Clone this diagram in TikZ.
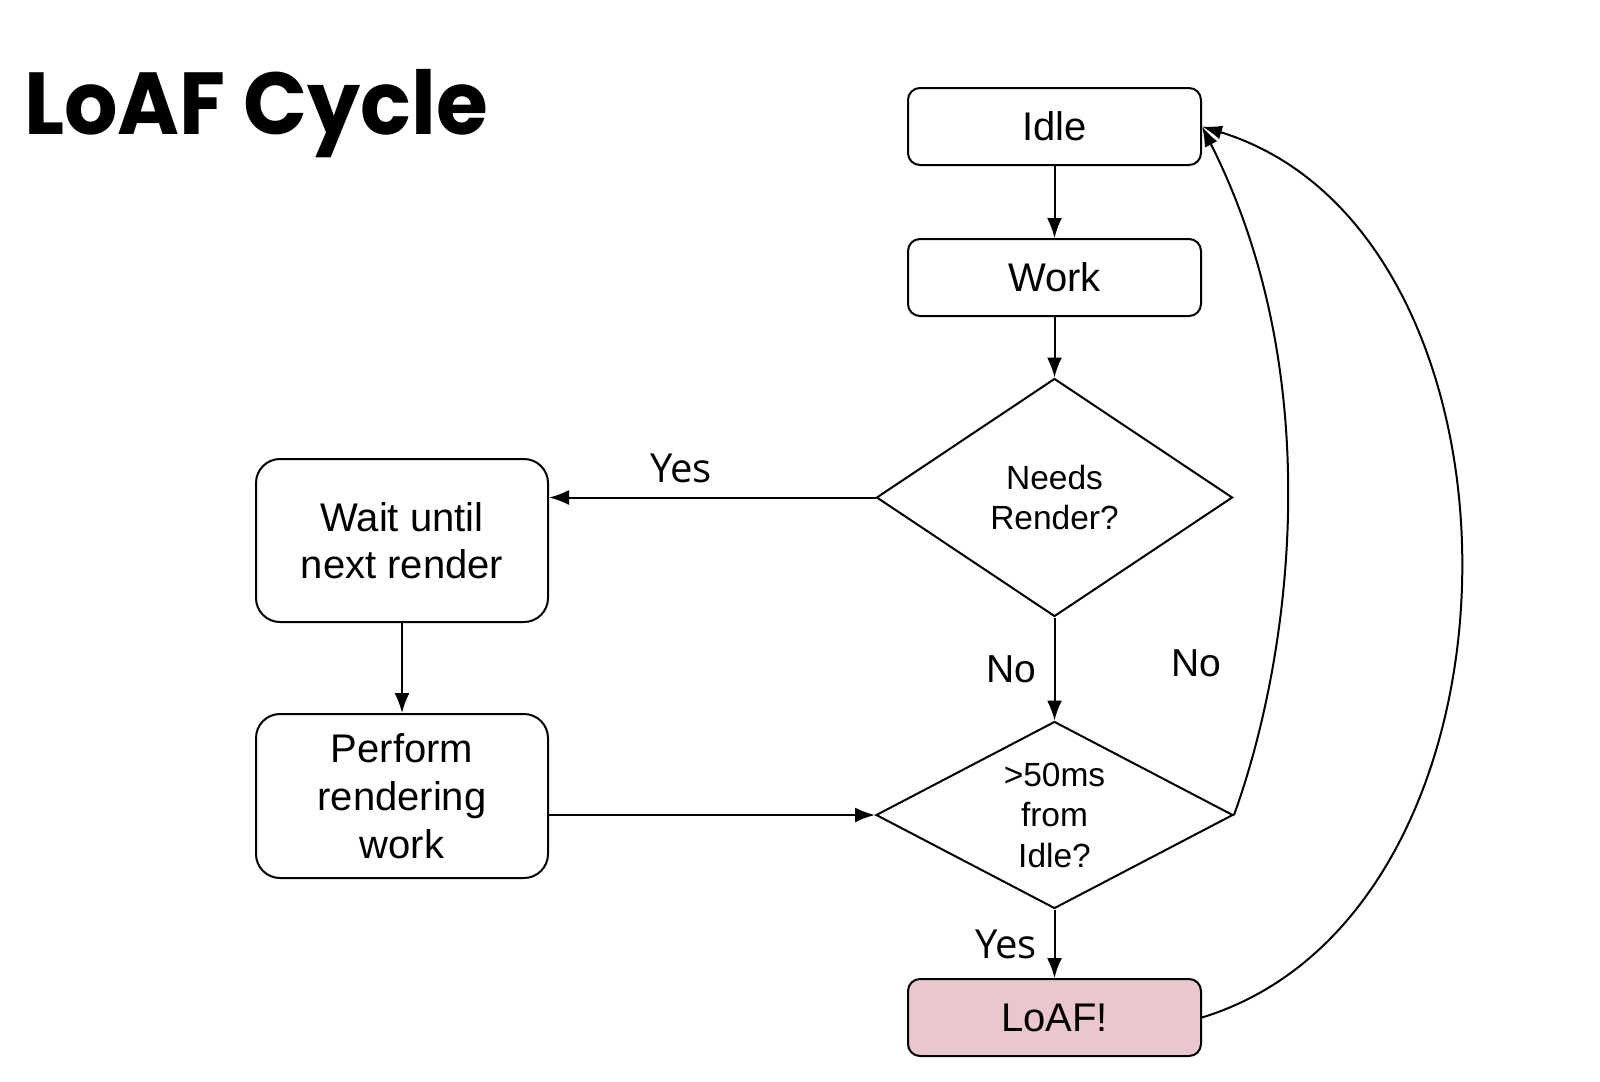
\documentclass[tikz,border=0pt]{standalone}
\usepackage{fontspec}
\setmainfont{Liberation Sans}
\newfontfamily\yesfont{Open Sans}
\newfontfamily\titlefont{Poppins}
\usetikzlibrary{shapes.geometric,arrows.meta}
\definecolor{loafpink}{RGB}{234,199,205}
\begin{document}
\begin{tikzpicture}[x=1pt,y=-1pt,
  box/.style={draw, line width=2pt, rounded corners=12pt, minimum width=293pt, minimum height=77pt, inner sep=0pt, font=\fontsize{40}{47}\selectfont},
  bigbox/.style={draw, line width=2pt, rounded corners=24pt, minimum width=292pt, minimum height=163pt, inner sep=0pt, align=center},
  decision/.style={draw, diamond, line width=2pt, inner sep=0pt, align=center, font=\fontsize{33.5}{40.5}\selectfont},
  conn/.style={line width=2pt, -{Latex[length=20pt,width=15pt]}},
  curveconn/.style={line width=2pt, -{Latex[length=20pt,width=14pt]}},
  nolbl/.style={anchor=base, font=\fontsize{39}{39}\selectfont},
  yeslbl/.style={anchor=base, font=\yesfont\fontsize{40}{40}\selectfont},
  ]
\fill[white] (0,0) rectangle (1600,1081);
\useasboundingbox (0,0) rectangle (1600,1081);

\node[anchor=base west, xscale=0.955, transform shape, inner sep=0pt, font={\titlefont\bfseries\fontsize{88}{88}\selectfont}] (title) at (24,134.3) {LoAF Cycle};

\node[box] (Idle) at (1054.5,126.5) {Idle};
\node[box] (Work) at (1054.5,277.5) {Work};
\node[decision, minimum width=356pt, minimum height=238pt, aspect=1.5] (Needs) at (1054.5,497.5) {Needs\\Render?};
\node[decision, minimum width=357pt, minimum height=187pt, aspect=2] (Gate) at (1054.5,815) {>50ms\\from\\Idle?};
\node[box, fill=loafpink] (LoAF) at (1054.5,1017.5) {LoAF!};

\node[bigbox, font=\fontsize{40}{46.7}\selectfont] (Wait) at (402,540.5) {Wait until\\next render};
\node[bigbox, font=\fontsize{40}{48}\selectfont, minimum height=164pt] (Perform) at (402,796) {Perform\\rendering\\work};

\draw[conn] (Idle) -- (Work);
\draw[conn] (Work) -- (Needs.north);
\draw[conn] (Needs.south) -- (Gate.north);
\draw[conn] (Needs.west) -- (Needs.west -| Wait.east);
\draw[conn] (Wait) -- (Perform);
\draw[conn] (Perform.east |- Gate.west) -- (Gate.west);
\draw[conn] (Gate.south) -- (LoAF.north);
\draw[curveconn] (Gate.east) .. controls (1290,660) and (1330,380) .. (Idle.east);
\draw[curveconn] (LoAF.east) .. controls (1546,912) and (1546,232) .. (Idle.east);

\node[yeslbl] (yes1) at (681,482.7) {Yes};
\node[yeslbl] (yes2) at (1006,958) {Yes};
\node[nolbl] (no1) at (1011,682.7) {No};
\node[nolbl] (no2) at (1196,676.7) {No};
\end{tikzpicture}
\end{document}
